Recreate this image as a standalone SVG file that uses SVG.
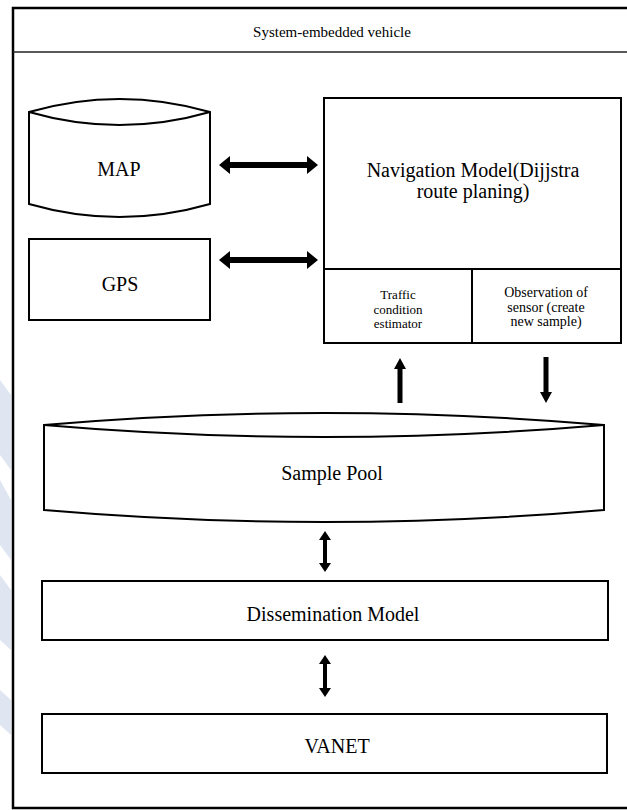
<svg xmlns="http://www.w3.org/2000/svg" width="627" height="810" viewBox="0 0 627 810">
  <style>
    .box { fill: #ffffff; stroke: #000000; stroke-width: 2; }
    .edge { fill: none; stroke: #000000; stroke-width: 2; }
    .arrow { fill: #000000; stroke: none; }
    .lbl { font-family: "Liberation Serif", "Times New Roman", serif; fill: #000000; text-anchor: middle; }
    .big { font-size: 20px; }
    .mid { font-size: 14px; }
    .small { font-size: 13px; }
    .head { font-size: 15px; }
  </style>

  <rect width="627" height="810" fill="#ffffff"/>

  <!-- faint background mark along the left margin -->
  <g id="margin-mark" fill="#c6d3e8" opacity="0.55">
    <polygon points="0,380 11,395 11,470 0,455"/>
    <polygon points="0,480 11,500 11,560 0,545"/>
    <polygon points="0,575 11,590 11,650 0,640"/>
    <polygon points="0,690 11,700 11,735 0,725"/>
  </g>

  <!-- vehicle frame with title band -->
  <g id="vehicle">
    <rect x="13" y="8" width="620" height="800" fill="none" stroke="#000" stroke-width="2.5"/>
    <line x1="13" y1="52" x2="627" y2="52" stroke="#222" stroke-width="1.5"/>
    <text class="lbl head" x="332" y="37">System-embedded vehicle</text>
  </g>

  <!-- map database -->
  <g id="map">
    <path class="box" d="M29,112 Q119.5,86 210,112 L210,204 Q119.5,230 29,204 Z"/>
    <path class="edge" d="M29,112 Q119.5,138 210,112"/>
    <text class="lbl big" x="119" y="176">MAP</text>
  </g>

  <!-- GPS unit -->
  <g id="gps">
    <rect class="box" x="29" y="239" width="181" height="81"/>
    <text class="lbl big" x="120" y="291">GPS</text>
  </g>

  <!-- navigation model with its two sub-blocks -->
  <g id="navigation">
    <rect class="box" x="324" y="98" width="297" height="245"/>
    <line class="edge" x1="324" y1="269" x2="621" y2="269"/>
    <line class="edge" x1="472" y1="269" x2="472" y2="343"/>
    <text class="lbl big" x="473" y="177">Navigation Model(Dijjstra</text>
    <text class="lbl big" x="473" y="198">route planing)</text>
  </g>
  <g id="traffic-estimator">
    <text class="lbl small" x="398" y="299">Traffic</text>
    <text class="lbl small" x="398" y="314">condition</text>
    <text class="lbl small" x="398" y="328">estimator</text>
  </g>
  <g id="sensor-observation">
    <text class="lbl mid" x="546" y="297">Observation of</text>
    <text class="lbl mid" x="546" y="312">sensor (create</text>
    <text class="lbl mid" x="546" y="326">new sample)</text>
  </g>

  <!-- sample pool store -->
  <g id="sample-pool">
    <path class="box" d="M44,425 Q324,401 604,425 L604,510 Q324,534 44,510 Z"/>
    <path class="edge" d="M44,425 Q324,449 604,425"/>
    <text class="lbl big" x="332" y="480">Sample Pool</text>
  </g>

  <!-- dissemination layer -->
  <g id="dissemination">
    <rect class="box" x="42" y="581" width="566" height="59"/>
    <text class="lbl big" x="333" y="621">Dissemination Model</text>
  </g>

  <!-- vehicular network -->
  <g id="vanet">
    <rect class="box" x="42" y="714" width="565" height="59"/>
    <text class="lbl big" x="337" y="753">VANET</text>
  </g>

  <!-- connectors -->
  <g id="connectors">
    <polygon class="arrow" points="219,165 230,156 230,162 307,162 307,156 318,165 307,174 307,168 230,168 230,174"/>
    <polygon class="arrow" points="219,260 230,251 230,257 307,257 307,251 318,260 307,269 307,263 230,263 230,269"/>
    <polygon class="arrow" points="400,358 406,369 402.5,369 402.5,403 397.5,403 397.5,369 394,369"/>
    <polygon class="arrow" points="546,403 552,392 548.5,392 548.5,357 543.5,357 543.5,392 540,392"/>
    <polygon class="arrow" points="325,531 331,540 327,540 327,563 331,563 325,572 319,563 323,563 323,540 319,540"/>
    <polygon class="arrow" points="325,655 331,664 327,664 327,688 331,688 325,697 319,688 323,688 323,664 319,664"/>
  </g>
</svg>
